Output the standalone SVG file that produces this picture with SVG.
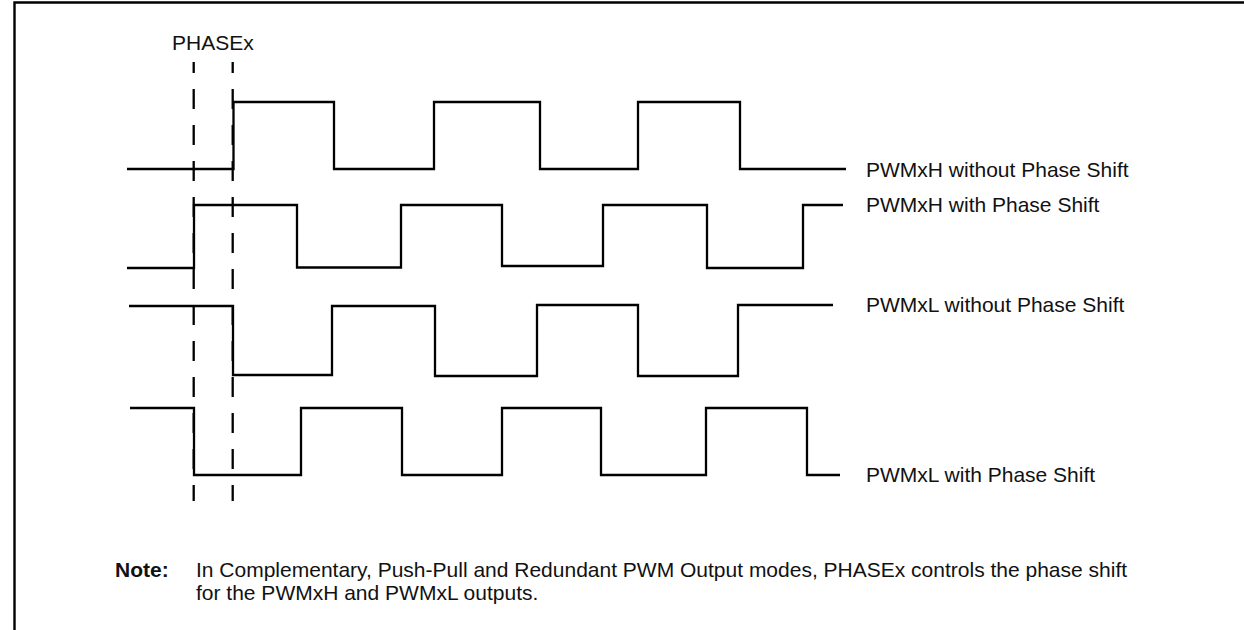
<svg xmlns="http://www.w3.org/2000/svg" width="1244" height="630" viewBox="0 0 1244 630">
<style>
.frame{fill:none;stroke:#000;stroke-width:2.4}
.wave{fill:none;stroke:#000;stroke-width:2.3;stroke-linejoin:miter;stroke-linecap:butt}
.dash{fill:none;stroke:#000;stroke-width:2.3;stroke-dasharray:20 16;stroke-dashoffset:9}
.lbl{font-family:"Liberation Sans",Arial,Helvetica,sans-serif;font-size:21px;fill:#111}
.note{font-family:"Liberation Sans",Arial,Helvetica,sans-serif;font-size:21px;fill:#111}
.bold{font-weight:bold}
</style>
<rect width="1244" height="630" fill="#fff"/>
<g id="frame">
<path class="frame" d="M14.5,630 V2.5 H1244"/>
</g>
<g id="phasex">
<text class="lbl" x="172" y="50">PHASEx</text>
</g>
<g id="connectors">
<line class="dash" x1="193.7" y1="62" x2="193.7" y2="501"/>
<line class="dash" x1="232.7" y1="62" x2="232.7" y2="501"/>
</g>
<g id="pwmxh-no-shift">
<path class="wave" d="M127,169 H233.5 V102 H334 V169 H434 V102 H540 V169 H638 V102 H740 V169 H846"/>
<text class="lbl" x="866" y="177">PWMxH without Phase Shift</text>
</g>
<g id="pwmxh-shift">
<path class="wave" d="M127,268 H194 V205 H297 V267.5 H401 V205 H502 V266 H603 V205 H707 V268 H803 V205 H843"/>
<text class="lbl" x="866" y="212">PWMxH with Phase Shift</text>
</g>
<g id="pwmxl-no-shift">
<path class="wave" d="M129,306 H233 V375 H332 V306 H435 V376 H537 V305 H638 V376 H738 V305 H833"/>
<text class="lbl" x="866" y="312">PWMxL without Phase Shift</text>
</g>
<g id="pwmxl-shift">
<path class="wave" d="M130,408 H194 V475 H301 V408 H402 V475 H502 V408 H601 V475 H706 V408 H807 V475 H840"/>
<text class="lbl" x="866" y="482">PWMxL with Phase Shift</text>
</g>
<g id="note">
<text class="note bold" x="115" y="577">Note:</text>
<text class="note" x="196" y="577">In Complementary, Push-Pull and Redundant PWM Output modes, PHASEx controls the phase shift</text>
<text class="note" x="196" y="600">for the PWMxH and PWMxL outputs.</text>
</g>
</svg>
